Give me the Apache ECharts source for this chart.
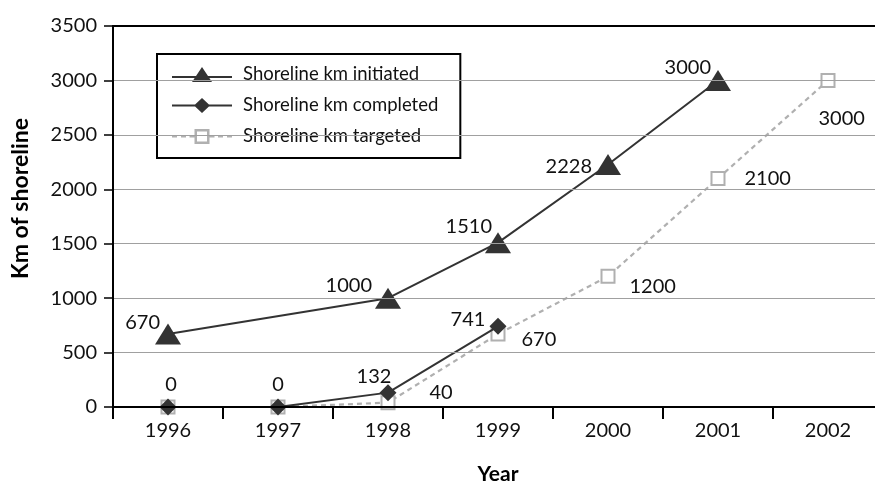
<!DOCTYPE html>
<html>
<head>
<meta charset="utf-8">
<script src="https://cdn.jsdelivr.net/npm/echarts@6/dist/echarts.min.js"></script>
<style>
  html, body { margin: 0; padding: 0; background: #fff; }
  #chart { width: 875px; height: 481px; }
</style>
</head>
<body>
<div id="chart"></div>
<script>
// Shoreline restoration progress by year
const years = ['1996', '1997', '1998', '1999', '2000', '2001', '2002'];
const initiatedKm = [670, null, 1000, 1510, 2228, 3000, null];
const completedKm = [0, 0, 132, 741, null, null, null];
const targetedKm = [0, 0, 40, 670, 1200, 2100, 3000];
const yTicks = [0, 500, 1000, 1500, 2000, 2500, 3000, 3500];

// per-point label nudges (pixels), kept apart from the values
const initiatedLabelShift = [[5, -12], null, [-3, -13], [7, -16], [-3, 2], [6, -13], null];
const completedLabelShift = [[3, 0], [0, 0], [-14, 6], [-30, 16], null, null, null];
const targetedLabelShift = [null, null, [20, -10], [2, 5], [0, 10], [5, 0], [-31, 38]];

const FONT = 'Lato';

// legend glyphs: line segment plus marker, drawn as filled paths
const ICON_INITIATED = 'path://M0 9H60V11H0Z M30 0L40 15L20 15Z';
const ICON_COMPLETED = 'path://M0 6.5H60V8.5H0Z M30 0L38 7.5L30 15L22 7.5Z';
const ICON_TARGETED = 'path://M0 6.5H5V8.5H0Z M9 6.5H14V8.5H9Z M17.5 6.5H22.5V8.5H17.5Z ' +
  'M22.5 0H37.5V15H22.5Z M25 2.5V12.5H35V2.5Z ' +
  'M37.5 6.5H42.5V8.5H37.5Z M46 6.5H51V8.5H46Z M55 6.5H60V8.5H55Z';

function withLabels(values, shifts) {
  return values.map((v, i) => {
    if (v === null) return null;
    const s = shifts[i];
    if (!s) return { value: v, label: { show: false } };
    return { value: v, label: { show: true, offset: s } };
  });
}

const chart = echarts.init(document.getElementById('chart'));

chart.setOption({
  animation: false,
  backgroundColor: '#fff',
  textStyle: { fontFamily: FONT },
  grid: {
    left: 113,
    top: 26,
    width: 770,
    height: 381,
    outerBoundsMode: 'none',
    containLabel: false
  },
  legend: {
    orient: 'vertical',
    left: 157,
    top: 54,
    padding: [11, 22, 12, 15],
    itemGap: 12,
    itemWidth: 60,
    itemHeight: 16,
    symbolKeepAspect: true,
    backgroundColor: '#fff',
    borderColor: '#000',
    borderWidth: 2,
    borderRadius: 0,
    textStyle: { fontFamily: FONT, fontSize: 18.5, color: '#111', padding: [0, 0, 0, 6] },
    data: [
      { name: 'Shoreline km initiated', icon: ICON_INITIATED, itemStyle: { color: '#333', borderWidth: 0 } },
      { name: 'Shoreline km completed', icon: ICON_COMPLETED, itemStyle: { color: '#333', borderWidth: 0 } },
      { name: 'Shoreline km targeted', icon: ICON_TARGETED, itemStyle: { color: '#b0b0b0', borderWidth: 0 } }
    ]
  },
  xAxis: [
    {
      type: 'category',
      data: years,
      boundaryGap: true,
      name: 'Year',
      nameLocation: 'middle',
      nameGap: 57,
      nameTextStyle: { fontFamily: FONT, fontSize: 21, fontWeight: 'bold', color: '#000' },
      axisLine: { lineStyle: { color: '#000', width: 2 } },
      axisTick: { show: true, length: 12, lineStyle: { color: '#000', width: 2 } },
      axisLabel: { fontFamily: FONT, fontSize: 20, color: '#111', margin: 14 },
      splitLine: { show: false },
      z: 5
    },
    {
      // top frame line of the plot area
      type: 'category',
      data: years,
      position: 'top',
      axisLine: { show: true, lineStyle: { color: '#000', width: 2 } },
      axisTick: { show: false },
      axisLabel: { show: false },
      splitLine: { show: false },
      z: 5
    }
  ],
  yAxis: {
    type: 'value',
    min: 0,
    max: 3500,
    interval: 500,
    name: 'Km of shoreline',
    nameLocation: 'middle',
    nameGap: 81,
    nameRotate: 90,
    nameTextStyle: {
      fontFamily: FONT, fontSize: 23, fontWeight: 'bold', color: '#000',
      padding: [0, 0, 0, 36]
    },
    axisLine: { show: true, lineStyle: { color: '#000', width: 2 } },
    axisTick: { show: true, length: 9, lineStyle: { color: '#000', width: 1.5 } },
    axisLabel: {
      fontFamily: FONT, fontSize: 20, color: '#111', margin: 16,
      formatter: v => (yTicks.indexOf(v) >= 0 ? String(v) : '')
    },
    splitLine: { show: true, lineStyle: { color: '#a0a0a0', width: 1.2 } },
    z: 5
  },
  series: [
    {
      name: 'Shoreline km targeted',
      type: 'line',
      data: withLabels(targetedKm, targetedLabelShift),
      symbol: 'emptyRect',
      symbolSize: 13,
      color: '#b0b0b0',
      itemStyle: { color: '#b0b0b0', borderColor: '#b0b0b0', borderWidth: 2 },
      lineStyle: { color: '#b0b0b0', width: 2.2, type: [5, 4] },
      label: {
        show: true, position: 'right', distance: 14,
        fontFamily: FONT, fontSize: 20, color: '#111'
      },
      z: 2
    },
    {
      name: 'Shoreline km completed',
      type: 'line',
      data: withLabels(completedKm, completedLabelShift),
      symbol: 'diamond',
      symbolSize: 17,
      color: '#333',
      itemStyle: { color: '#333' },
      lineStyle: { color: '#333', width: 2 },
      label: {
        show: true, position: 'top', distance: 4,
        fontFamily: FONT, fontSize: 20, color: '#111'
      },
      z: 3
    },
    {
      name: 'Shoreline km initiated',
      type: 'line',
      data: withLabels(initiatedKm, initiatedLabelShift),
      connectNulls: true,
      symbol: 'triangle',
      symbolSize: [26, 21],
      color: '#333',
      itemStyle: { color: '#333' },
      lineStyle: { color: '#333', width: 2 },
      label: {
        show: true, position: 'left', distance: 0,
        fontFamily: FONT, fontSize: 20, color: '#111'
      },
      z: 4
    }
  ]
});
</script>
</body>
</html>
